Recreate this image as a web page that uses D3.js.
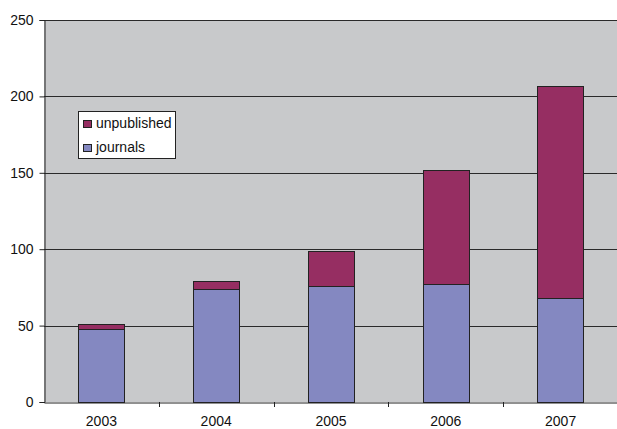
<!DOCTYPE html>
<html><head><meta charset="utf-8">
<script src="https://cdn.jsdelivr.net/npm/d3@7"></script>
<style>body{margin:0;background:#fff}svg{display:block}text{font-family:"Liberation Sans",Arial,sans-serif;fill:#111}</style>
</head><body>
<svg id="c" width="617" height="429"></svg>
<script>
const years = ["2003","2004","2005","2006","2007"];
const journals = [48, 74, 76, 77, 68];
const unpublished = [3, 5.5, 23, 75, 139];
const yTicks = [0, 50, 100, 150, 200, 250];
const seriesNames = ["journals","unpublished"];
const colors = {journals:"#8488C1", unpublished:"#962E62"};

const W=617,H=429, L=44, R=618, T=20, B=402;
const svg=d3.select("#c");
const xb=d3.scaleBand().domain(years).range([L,R]);
const y=d3.scaleLinear().domain([0,250]).range([B,T]);

svg.append("rect").attr("x",L).attr("y",T).attr("width",R-L).attr("height",B-T).attr("fill","#C8C9CB");
// gridlines
svg.append("g").selectAll("line").data(yTicks.filter(d=>d>0)).join("line")
 .attr("x1",L).attr("x2",R).attr("y1",d=>Math.round(y(d))+0.5).attr("y2",d=>Math.round(y(d))+0.5)
 .attr("stroke","#2a2a2a").attr("stroke-width",1);

const data=years.map((yr,i)=>({year:yr,journals:journals[i],unpublished:unpublished[i]}));
const stack=d3.stack().keys(seriesNames)(data);
const bw = xb.bandwidth()*0.405;
svg.append("g").selectAll("g").data(stack).join("g").attr("fill",d=>colors[d.key])
 .selectAll("rect").data(d=>d).join("rect")
 .attr("x",d=>Math.round(xb(d.data.year)+(xb.bandwidth()-bw)/2)+0.5)
 .attr("width",Math.round(bw))
 .attr("y",d=>Math.round(y(d[1]))+0.5)
 .attr("height",d=>Math.round(y(d[0]))-Math.round(y(d[1])))
 .attr("stroke","#222").attr("stroke-width",1);

// y axis
const ya=svg.append("g").attr("transform",`translate(${L+0.5},0)`).call(d3.axisLeft(y).tickValues(yTicks).tickSize(5).tickPadding(6));
ya.select(".domain").attr("stroke","#222");
ya.selectAll(".tick line").attr("stroke","#222");
ya.selectAll("text").attr("font-size","14px").attr("font-family","Liberation Sans, Arial, sans-serif").attr("fill","#111");
// x axis
const xa=svg.append("g").attr("transform",`translate(0,${B+0.5})`).call(d3.axisBottom(xb).tickSize(0).tickPadding(14));
xa.select(".domain").attr("stroke","#222");
xa.selectAll("text").attr("font-size","14px").attr("font-family","Liberation Sans, Arial, sans-serif").attr("fill","#111");
svg.append("g").selectAll("line").data(years.slice(1)).join("line")
 .attr("x1",d=>Math.round(xb(d))+0.5).attr("x2",d=>Math.round(xb(d))+0.5)
 .attr("y1",B).attr("y2",B+5).attr("stroke","#222");

// legend
const lg=svg.append("g");
lg.append("rect").attr("x",78.5).attr("y",111.5).attr("width",97).attr("height",47).attr("fill","#fff").attr("stroke","#222");
const legItems=["unpublished","journals"];
legItems.forEach((k,i)=>{
  const base=128+i*24;
  lg.append("rect").attr("x",83.5).attr("y",base-7.5).attr("width",8).attr("height",7).attr("fill",colors[k]).attr("stroke","#222");
  lg.append("text").attr("x",96).attr("y",base).attr("font-size","14px").text(k);
});
</script>
</body></html>
